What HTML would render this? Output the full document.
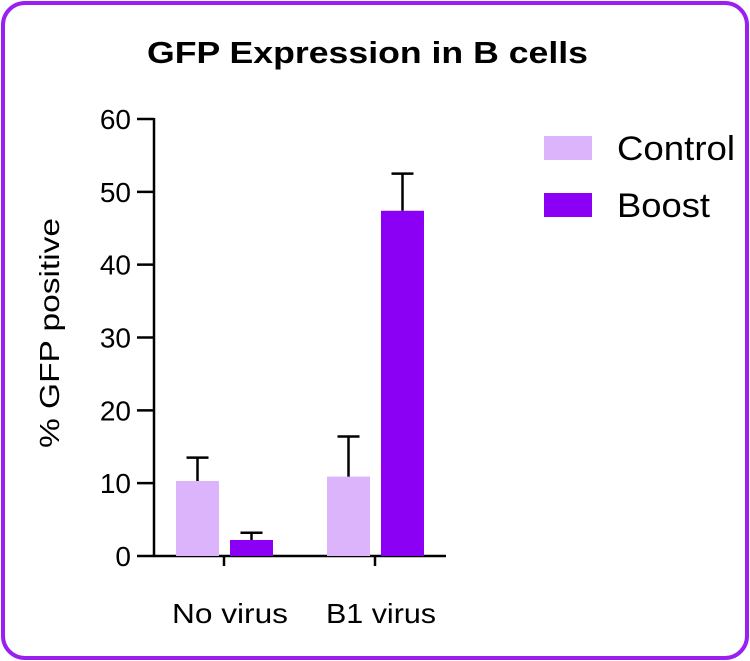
<!DOCTYPE html>
<html><head><meta charset="utf-8"><style>
html,body{margin:0;padding:0;background:#fff;}
body{width:750px;height:661px;overflow:hidden;}
svg{display:block;font-family:"Liberation Sans",sans-serif;}
</style></head><body>
<svg id="chart" width="750" height="661">
<rect x="3" y="3" width="744" height="655" rx="22" fill="#fff" stroke="#9b1ff0" stroke-width="4"/>
<text x="147" y="63" font-size="31" font-weight="bold" fill="#000" textLength="441" lengthAdjust="spacingAndGlyphs">GFP Expression in B cells</text>
<text transform="translate(59,333) rotate(-90)" text-anchor="middle" font-size="28" fill="#000" textLength="230" lengthAdjust="spacingAndGlyphs">% GFP positive</text>
<g id="axes"></g><g id="bars"></g>
<g>
<rect x="544" y="136" width="48" height="24" fill="#dcb4fb"/>
<text x="617" y="160" font-size="34" fill="#000" textLength="118" lengthAdjust="spacingAndGlyphs">Control</text>
<rect x="544" y="193" width="48" height="24" fill="#8b00f5"/>
<text x="617" y="217" font-size="34" fill="#000" textLength="93" lengthAdjust="spacingAndGlyphs">Boost</text>
</g>
</svg>
<script>
const categories = ["No virus", "B1 virus"];
const controlValues = [10.3, 10.9];
const controlErrors = [3.2, 5.5];
const boostValues = [2.2, 47.4];
const boostErrors = [1.0, 5.1];
const yTicks = [0, 10, 20, 30, 40, 50, 60];

const NS = "http://www.w3.org/2000/svg";
const y0 = 556, yTop = 119, yMax = 60;
const yScale = v => y0 - (v / yMax) * (y0 - yTop);
const catCenter = i => 224 + i * 151;
function mk(tag, attrs, parent){const e=document.createElementNS(NS,tag);for(const k in attrs)e.setAttribute(k,attrs[k]);parent.appendChild(e);return e;}
const axes=document.getElementById('axes'), bars=document.getElementById('bars');
let ax=mk('line',{x1:154,y1:yTop-1,x2:154,y2:y0+1,stroke:'#000','stroke-width':2.5},axes);


let xx=mk('line',{x1:153,y1:y0,x2:446,y2:y0,stroke:'#000','stroke-width':2.5},axes);


yTicks.forEach(t=>{
  const y=yScale(t);
  const l=mk('line',{x1:137,y1:y,x2:154,y2:y,stroke:'#000','stroke-width':2.5},axes);
  
  
  const tx=mk('text',{x:131,y:y+10,'text-anchor':'end','font-size':28,fill:'#000'},axes);
  tx.textContent=t;
  
  
});
const labelW=[116,110];
categories.forEach((c,i)=>{
  const cx=catCenter(i);
  const l=mk('line',{x1:cx,y1:y0,x2:cx,y2:566,stroke:'#000','stroke-width':2.5},axes);
  
  
  const tx=mk('text',{x:cx+6,y:623,'text-anchor':'middle','font-size':28,fill:'#000',textLength:labelW[i],lengthAdjust:'spacingAndGlyphs'},axes);
  tx.textContent=c;
  
  
  [[controlValues,controlErrors,'#dcb4fb',-48,'control'],[boostValues,boostErrors,'#8b00f5',6,'boost']].forEach(([vals,errs,col,off,nm])=>{
    const v=vals[i], x=cx+off, w=43, top=yScale(v), et=yScale(v+errs[i]), mid=x+w/2;
    const r=mk('rect',{x:x,y:top,width:w,height:y0-top,fill:col},bars);
    
    
    const e=mk('path',{d:`M${mid},${top}V${et}M${mid-11},${et}H${mid+11}`,stroke:'#000','stroke-width':2.5,fill:'none'},bars);
    
    
  });
});
</script>
</body></html>
